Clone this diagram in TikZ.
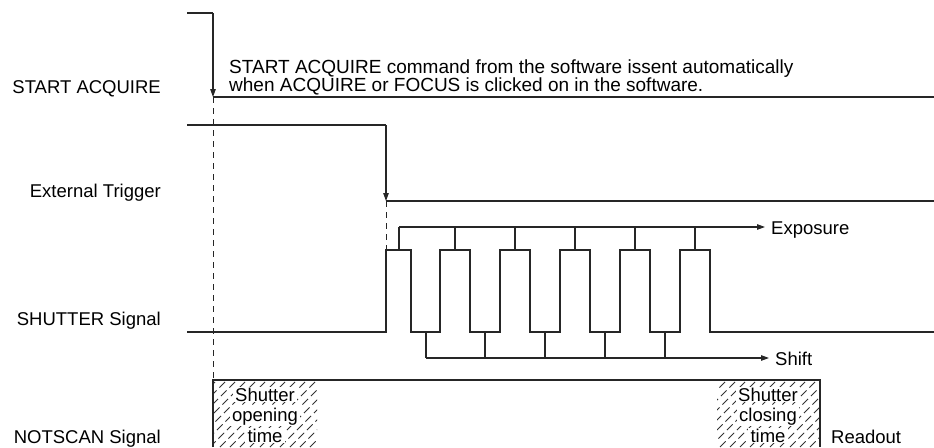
\documentclass[tikz,border=0pt]{standalone}
\usepackage{fontspec}
\setmainfont{Liberation Sans}
\usetikzlibrary{arrows.meta}
\begin{document}
\begin{tikzpicture}[x=1pt,y=-1pt,
  sig/.style={draw=black!85,line width=1.1pt},
  guide/.style={draw=black!85,line width=1pt,dash pattern=on 6pt off 5pt},
  tip/.style={-{Triangle[length=8pt,width=5.5pt]}},
  lbl/.style={font=\fontsize{18.5}{20}\selectfont,inner sep=0pt},
  toplbl/.style={font=\fontsize{19}{20}\selectfont,inner sep=0pt},
  hatchtxt/.style={font=\fontsize{18.5}{20}\selectfont,inner xsep=2.5pt,inner ysep=1pt,fill=white},
  hatch/.style={draw=black!80,line width=0.9pt,dash pattern=on 8pt off 4pt}]
\useasboundingbox (0,0) rectangle (934,447);

% labels
\node[lbl,anchor=base east] (lsa) at (161,93) {START ACQUIRE};
\node[lbl,anchor=base east] (let) at (161,197) {External Trigger};
\node[lbl,anchor=base east] (lsh) at (161,325) {SHUTTER Signal};
\node[lbl,anchor=base east] (lns) at (161,443) {NOTSCAN Signal};
\node[toplbl,anchor=base west] (t1) at (229,73) {START ACQUIRE command from the software issent automatically};
\node[toplbl,anchor=base west] (t2) at (229,91) {when ACQUIRE or FOCUS is clicked on in the software.};

% START ACQUIRE
\coordinate (sa0) at (187,13);
\coordinate (sa1) at (213,13);
\coordinate (sa2) at (213,97);
\coordinate (sa3) at (934,97);
\draw[sig] (sa0) -- (sa1);
\draw[sig,tip] (sa1) -- (sa2);
\draw[sig] (sa2) -- (sa3);
\coordinate (ns0) at (213,380);
\draw[guide] (sa2) -- (ns0);

% External trigger
\coordinate (et0) at (187,125);
\coordinate (et1) at (386,125);
\coordinate (et2) at (386,201);
\coordinate (et3) at (934,201);
\draw[sig] (et0) -- (et1);
\draw[sig,tip] (et1) -- (et2);
\draw[sig] (et2) -- (et3);
\coordinate (sh1) at (386,250);
\draw[guide] (et2) -- (sh1);

% SHUTTER signal
\draw[sig] (187,332) -- (386,332) -- (sh1) -- (411,250) -- (411,332)
  -- (440,332) -- (440,250) -- (470,250) -- (470,332)
  -- (500,332) -- (500,250) -- (530,250) -- (530,332)
  -- (560,332) -- (560,250) -- (590,250) -- (590,332)
  -- (620,332) -- (620,250) -- (650,250) -- (650,332)
  -- (680,332) -- (680,250) -- (710,250) -- (710,332)
  -- (934,332);

% Exposure
\coordinate (ex0) at (399,227);
\coordinate (ex1) at (765,227);
\draw[sig,tip] (ex0) -- (ex1);
\foreach \x in {399,455,515,575,635,695} \draw[sig] (\x,227) -- (\x,250);
\node[lbl,anchor=base west] (lex) at (771,234) {Exposure};

% Shift
\coordinate (sf0) at (426,358);
\coordinate (sf1) at (769,358);
\draw[sig,tip] (sf0) -- (sf1);
\foreach \x in {426,485,545,605,665} \draw[sig] (\x,332) -- (\x,358);
\node[lbl,anchor=base west] (lsf) at (775,365) {Shift};

% NOTSCAN hatch
\begin{scope}
  \clip (213,380) rectangle (317,447);
  \foreach \x in {150,160,...,330} \draw[hatch] (\x,447) -- (\x+67,380);
\end{scope}
\begin{scope}
  \clip (717,380) rectangle (820,447);
  \foreach \x in {650,660,...,830} \draw[hatch] (\x,447) -- (\x+67,380);
\end{scope}
\draw[sig] (213,447) -- (ns0) -- (820,380) -- (820,447);

\node[hatchtxt,anchor=base] (o1) at (265,401) {Shutter};
\node[hatchtxt,anchor=base] (o2) at (265,421) {opening};
\node[hatchtxt,anchor=base] (o3) at (265,442) {time};
\node[hatchtxt,anchor=base] (c1) at (768,401) {Shutter};
\node[hatchtxt,anchor=base] (c2) at (768,421) {closing};
\node[hatchtxt,anchor=base] (c3) at (768,442) {time};
\node[lbl,anchor=base west] (lro) at (831,443) {Readout};
\end{tikzpicture}
\end{document}
